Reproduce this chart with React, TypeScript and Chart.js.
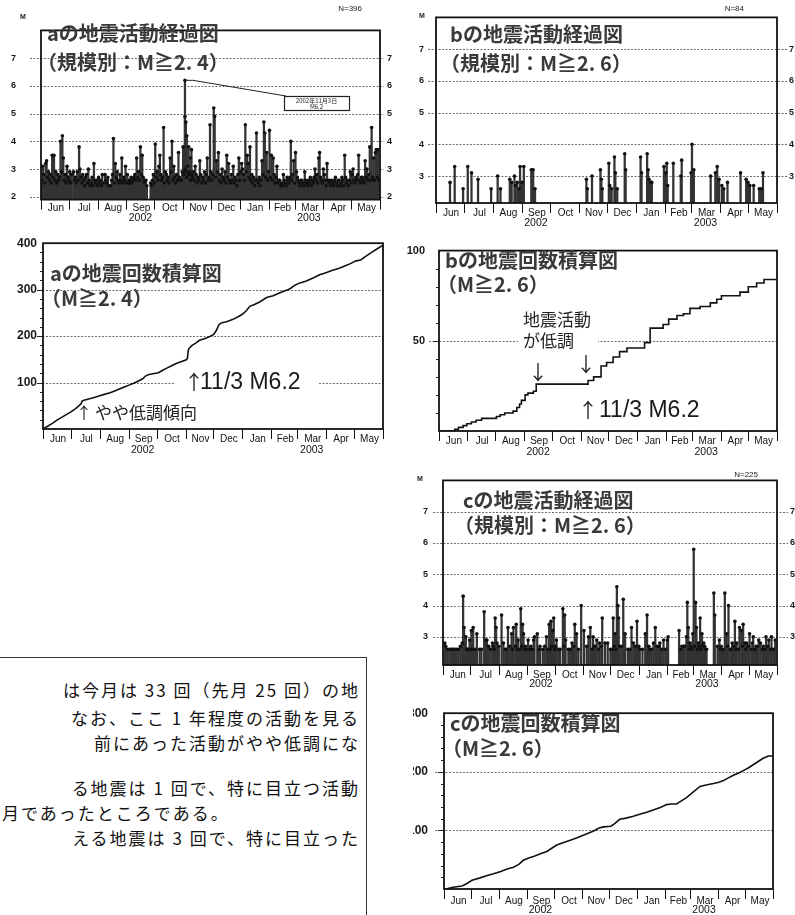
import React, { useEffect, useRef } from "react";
import { Chart, registerables } from "chart.js";

Chart.register(...registerables);

type Pair = [number, number];

// Day index: 0 = 2002-06-01 ... 365 = 2003-06-01
const MONTH_LABELS = ["Jun", "Jul", "Aug", "Sep", "Oct", "Nov", "Dec", "Jan", "Feb", "Mar", "Apr", "May"];
const MONTH_START_DAYS = [0, 30, 61, 92, 122, 153, 183, 214, 245, 273, 304, 334, 365];
const YEAR_LABELS: [string, number][] = [["2002", 3], ["2003", 9]];

const A_MAG_TICKS = [2, 3, 4, 5, 6, 7];
const BC_MAG_TICKS = [3, 4, 5, 6, 7];
const A_CUM_TICKS = [100, 200, 300, 400];
const A_CUM_GRID = [100, 200, 300];
const B_CUM_TICKS = [50, 100];
const B_CUM_GRID = [50];
const C_CUM_TICKS = [100, 200, 300];
const C_CUM_GRID = [100, 200];

// a: events [day, M]
const A_EVENTS_MAIN: Pair[] = [
  [2, 3.1], [5, 3.2], [6, 3.3], [12, 3.5], [14, 3.5], [21, 4.0], [23, 4.2], [24, 3.4], [28, 3.1],
  [35, 2.9], [41, 3.8], [42, 3.0], [49, 2.8], [51, 3.0], [57, 3.2], [60, 2.6], [69, 2.8], [75, 2.4],
  [78, 4.1], [80, 3.2], [82, 2.9], [87, 3.4], [91, 3.1], [94, 2.5], [100, 2.7], [103, 3.4], [107, 3.8],
  [109, 3.5], [112, 2.6], [123, 3.9], [127, 3.1], [128, 3.5], [132, 4.5], [134, 2.9], [139, 3.4],
  [141, 4.0], [143, 3.1], [148, 3.6], [150, 2.6], [153, 3.8], [155, 6.2], [155, 4.9], [156, 4.7],
  [157, 4.2], [159, 3.8], [161, 3.4], [162, 3.7], [166, 3.1], [171, 3.3], [179, 3.4], [182, 4.6],
  [186, 5.2], [187, 4.9], [189, 3.3], [191, 3.6], [195, 3.0], [200, 3.5], [202, 3.2], [207, 3.1],
  [213, 3.4], [216, 3.2], [220, 4.6], [222, 3.5], [223, 3.2], [225, 3.8], [231, 2.6], [232, 4.3],
  [238, 3.3], [240, 4.7], [241, 4.3], [243, 3.6], [246, 4.4], [248, 3.5], [250, 3.4], [254, 3.1],
  [256, 2.6], [261, 2.8], [265, 2.7], [269, 4.0], [272, 3.3], [274, 3.6], [275, 2.9], [277, 2.6],
  [281, 2.6], [284, 2.9], [290, 2.7], [295, 3.0], [299, 3.4], [300, 3.6], [304, 3.0], [308, 3.2],
  [311, 2.6], [317, 2.7], [320, 2.6], [324, 2.7], [327, 3.5], [333, 2.9], [336, 3.0], [342, 3.5],
  [345, 2.7], [349, 3.3], [351, 3.0], [354, 3.8], [356, 4.5], [358, 3.4], [360, 3.6], [361, 3.7],
  [363, 3.7],
];
const A_EVENTS_LOW: Pair[] = [
  [1, 2.6], [3, 2.8], [4, 2.5], [7, 2.7], [8, 2.9], [9, 2.6], [10, 2.8], [11, 2.5], [13, 2.7], [15, 2.6],
  [16, 2.9], [17, 2.5], [18, 2.8], [19, 2.6], [20, 2.7], [22, 2.9], [25, 2.6], [26, 2.8], [27, 2.5],
  [29, 2.7], [30, 2.6], [31, 2.9], [32, 2.5], [33, 2.8], [36, 2.6], [37, 2.7], [38, 2.5], [39, 2.9],
  [40, 2.6], [43, 2.7], [44, 2.5], [45, 2.8], [46, 2.6], [47, 2.4], [48, 2.7], [50, 2.5], [52, 2.6],
  [53, 2.4], [54, 2.5], [55, 2.7], [56, 2.4], [58, 2.6], [59, 2.5], [61, 2.4], [62, 2.7], [63, 2.5],
  [64, 2.6], [65, 2.4], [66, 2.8], [67, 2.5], [70, 2.6], [71, 2.5], [72, 2.7], [73, 2.4], [76, 2.6],
  [77, 2.8], [79, 2.5], [81, 2.7], [83, 2.6], [84, 2.5], [85, 2.8], [86, 2.6], [88, 2.5], [89, 2.7],
  [90, 2.6], [92, 2.5], [93, 2.8], [95, 2.6], [96, 2.5], [97, 2.7], [98, 2.5], [99, 2.6], [101, 2.8],
  [102, 2.6], [104, 2.7], [105, 2.9], [106, 2.6], [108, 2.8], [110, 2.7], [111, 2.5], [113, 2.6],
  [114, 2.4], [118, 2.5], [119, 2.4], [120, 2.6], [121, 2.8], [122, 2.5], [124, 2.7], [125, 2.9],
  [126, 2.6], [129, 2.8], [130, 2.6], [131, 2.7], [133, 2.5], [135, 2.8], [136, 2.6], [137, 2.7],
  [138, 2.5], [140, 2.9], [142, 2.6], [144, 2.7], [145, 2.5], [146, 2.8], [147, 2.6], [149, 2.7],
  [151, 2.6], [152, 2.9], [154, 2.8], [155, 3.0], [156, 2.9], [157, 2.7], [158, 3.1], [159, 2.8],
  [160, 2.9], [161, 2.6], [162, 2.8], [163, 2.7], [164, 2.9], [165, 2.6], [167, 2.8], [168, 2.5],
  [169, 2.7], [170, 2.6], [172, 2.8], [173, 2.5], [174, 2.7], [175, 2.6], [176, 2.9], [177, 2.5],
  [178, 2.8], [180, 2.6], [181, 2.7], [183, 2.9], [184, 2.6], [185, 2.8], [188, 2.7], [190, 2.9],
  [192, 2.6], [193, 2.8], [194, 2.5], [196, 2.7], [197, 2.6], [198, 2.9], [199, 2.5], [201, 2.7],
  [203, 2.6], [204, 2.5], [205, 2.8], [206, 2.6], [208, 2.5], [209, 2.7], [210, 2.6], [211, 2.4],
  [212, 2.8], [214, 2.6], [215, 2.9], [217, 3.0], [218, 2.8], [219, 2.6], [221, 2.9], [224, 2.7],
  [226, 2.6], [227, 2.8], [228, 2.5], [229, 2.7], [230, 2.4], [233, 2.6], [234, 2.5], [235, 2.7],
  [236, 2.4], [237, 2.6], [239, 2.8], [242, 2.7], [244, 2.6], [245, 2.9], [247, 2.7], [249, 2.6],
  [251, 2.8], [252, 2.5], [253, 2.7], [255, 2.5], [257, 2.6], [258, 2.4], [259, 2.5], [260, 2.4],
  [262, 2.6], [263, 2.5], [264, 2.4], [266, 2.6], [267, 2.5], [268, 2.7], [270, 2.6], [271, 2.8],
  [273, 2.5], [276, 2.7], [278, 2.5], [279, 2.4], [280, 2.6], [282, 2.5], [283, 2.4], [285, 2.6],
  [286, 2.5], [287, 2.4], [288, 2.6], [289, 2.5], [291, 2.4], [292, 2.6], [293, 2.5], [294, 2.7],
  [296, 2.6], [297, 2.8], [298, 2.5], [301, 2.7], [302, 2.6], [303, 2.5], [305, 2.8], [306, 2.6],
  [307, 2.4], [309, 2.6], [310, 2.5], [312, 2.4], [313, 2.6], [314, 2.5], [315, 2.4], [316, 2.6],
  [318, 2.5], [319, 2.4], [321, 2.6], [322, 2.4], [323, 2.5], [325, 2.6], [326, 2.4], [328, 2.7],
  [329, 2.5], [330, 2.6], [331, 2.4], [332, 2.6], [334, 2.5], [335, 2.8], [337, 2.6], [338, 2.5],
  [339, 2.7], [340, 2.6], [341, 2.8], [343, 2.6], [344, 2.5], [346, 2.7], [347, 2.6], [348, 2.5],
  [350, 2.7], [352, 2.6], [353, 2.8], [355, 2.6], [357, 2.7], [359, 2.6], [362, 2.7], [364, 2.6],
];

// b: events [day, M]
const B_EVENTS: Pair[] = [
  [15, 2.8], [20, 3.3], [29, 2.6], [34, 3.3], [38, 3.1], [45, 2.9], [59, 2.6], [66, 3.0], [69, 2.6],
  [79, 2.9], [81, 2.8], [84, 3.0], [85, 2.7], [87, 2.8], [89, 2.6], [90, 3.3], [92, 2.8], [94, 3.3],
  [102, 3.2], [104, 3.2], [106, 2.6], [161, 2.9], [162, 2.6], [167, 3.0], [176, 3.2], [177, 2.9],
  [178, 2.6], [185, 3.4], [186, 2.7], [188, 2.6], [191, 3.6], [192, 3.1], [194, 2.6], [202, 3.7],
  [203, 3.2], [219, 3.6], [220, 3.1], [226, 3.7], [227, 3.2], [228, 2.9], [230, 2.8], [231, 2.8],
  [244, 3.3], [246, 3.1], [247, 3.4], [248, 2.7], [254, 3.4], [262, 3.0], [263, 3.5], [273, 3.1],
  [274, 4.0], [276, 3.2], [294, 3.0], [299, 3.1], [301, 3.3], [303, 2.9], [306, 2.7], [308, 2.6],
  [312, 2.8], [326, 3.1], [332, 2.9], [334, 2.8], [336, 2.7], [340, 2.7], [346, 2.6], [348, 2.6],
  [350, 3.1],
];

// c: events [day, M]
const C_EVENTS_MAIN: Pair[] = [
  [2, 2.8], [7, 2.6], [9, 2.6], [12, 2.6], [15, 2.6], [21, 2.8], [22, 4.3], [23, 3.3], [25, 3.0],
  [27, 2.6], [29, 2.9], [31, 3.2], [33, 3.3], [35, 2.6], [37, 3.1], [42, 2.6], [45, 3.8], [47, 2.9],
  [48, 2.9], [54, 2.8], [57, 3.6], [58, 3.3], [59, 2.8], [64, 3.7], [66, 2.8], [69, 2.6], [71, 3.3],
  [75, 3.1], [77, 3.3], [80, 3.4], [82, 2.9], [85, 3.9], [87, 3.4], [88, 3.1], [91, 2.6], [93, 2.9],
  [96, 2.7], [99, 2.9], [100, 3.0], [103, 3.1], [106, 2.7], [109, 2.6], [113, 3.0], [116, 3.4],
  [118, 3.5], [120, 3.2], [121, 3.6], [124, 2.9], [131, 3.9], [133, 3.7], [134, 2.9], [137, 2.6],
  [141, 2.8], [144, 3.4], [146, 3.1], [151, 4.0], [154, 3.2], [159, 3.0], [161, 3.3], [164, 3.0],
  [166, 2.7], [168, 2.9], [171, 2.8], [174, 3.6], [177, 2.8], [180, 2.8], [186, 3.6], [188, 3.1],
  [190, 4.6], [191, 4.0], [192, 3.6], [193, 2.7], [197, 4.2], [199, 3.1], [204, 2.6], [206, 3.3],
  [208, 2.8], [212, 3.5], [214, 2.7], [215, 2.6], [221, 3.1], [223, 3.7], [226, 2.6], [230, 2.8],
  [232, 3.3], [234, 2.7], [237, 2.8], [241, 2.9], [245, 2.9], [246, 3.0], [258, 3.2], [261, 2.7],
  [264, 2.7], [266, 3.0], [267, 4.1], [268, 3.3], [270, 2.8], [273, 3.1], [274, 5.8], [276, 4.1],
  [277, 3.3], [279, 2.8], [281, 3.6], [283, 3.1], [285, 2.8], [286, 2.7], [288, 2.6], [296, 4.4],
  [297, 3.7], [302, 2.9], [304, 2.7], [308, 4.4], [310, 3.1], [312, 4.0], [314, 2.6], [316, 2.8],
  [319, 3.5], [321, 2.8], [324, 3.3], [326, 3.2], [328, 3.4], [330, 2.8], [332, 2.8], [335, 3.1],
  [338, 2.8], [339, 3.0], [342, 2.7], [345, 2.9], [347, 2.8], [350, 2.7], [353, 3.0], [356, 2.9],
  [359, 3.0], [363, 2.9],
];
const C_EVENTS_LOW: Pair[] = [
  [3, 2.7], [5, 2.6], [10, 2.6], [13, 2.6], [17, 2.6], [19, 2.7], [26, 2.6], [28, 2.6], [30, 2.6],
  [32, 2.6], [40, 2.6], [50, 2.7], [52, 2.6], [55, 2.7], [56, 2.6], [61, 2.7], [68, 2.6], [73, 2.7],
  [76, 2.6], [79, 2.7], [81, 2.6], [84, 2.6], [86, 2.7], [89, 2.6], [90, 2.7], [95, 2.6], [98, 2.6],
  [105, 2.6], [111, 2.7], [114, 2.6], [117, 2.6], [119, 2.7], [122, 2.6], [123, 2.7], [126, 2.6],
  [128, 2.6], [132, 2.7], [139, 2.6], [143, 2.7], [148, 2.6], [157, 2.7], [163, 2.6], [165, 2.7],
  [170, 2.6], [173, 2.7], [183, 2.6], [185, 2.6], [187, 2.7], [189, 2.6], [195, 2.7], [202, 2.6],
  [210, 2.7], [218, 2.6], [225, 2.7], [228, 2.6], [236, 2.7], [239, 2.6], [243, 2.6], [260, 2.6],
  [263, 2.7], [269, 2.6], [271, 2.7], [272, 2.6], [275, 2.7], [278, 2.6], [280, 2.7], [282, 2.6],
  [284, 2.7], [287, 2.6], [300, 2.7], [303, 2.6], [306, 2.6], [311, 2.7], [315, 2.6], [318, 2.7],
  [320, 2.6], [323, 2.6], [327, 2.7], [331, 2.6], [334, 2.7], [337, 2.6], [341, 2.6], [344, 2.7],
  [349, 2.6], [352, 2.6], [355, 2.7], [358, 2.6], [361, 2.6],
];

// cumulative counts [day, count]
const A_CUM: Pair[] = [
  [0, 0], [5, 6], [10, 12], [15, 19], [20, 25], [25, 31], [30, 37], [35, 44], [39, 51], [41, 55],
  [42, 60], [44, 62], [50, 65], [55, 68], [60, 71], [65, 74], [72, 78], [77, 82], [82, 86], [88, 91],
  [93, 95], [98, 99], [103, 104], [107, 108], [110, 114], [113, 117], [118, 119], [124, 121],
  [128, 126], [133, 131], [138, 136], [143, 141], [148, 145], [154, 149], [155, 152], [156, 170],
  [157, 174], [160, 180], [164, 185], [168, 191], [174, 195], [179, 199], [183, 203], [186, 212],
  [189, 225], [192, 229], [197, 231], [204, 236], [209, 241], [214, 247], [218, 254], [222, 264],
  [227, 268], [233, 274], [240, 283], [247, 287], [255, 294], [262, 299], [266, 303], [270, 309],
  [275, 314], [282, 318], [290, 325], [297, 332], [303, 336], [310, 341], [318, 346], [324, 351],
  [330, 356], [336, 362], [341, 364], [346, 371], [352, 379], [358, 387], [365, 396],
];
const B_CUM: Pair[] = [
  [0, 0], [12, 0], [17, 1], [21, 2], [26, 3], [30, 4], [35, 5], [40, 6], [46, 7], [62, 8], [66, 9],
  [71, 10], [80, 11], [84, 13], [87, 15], [89, 17], [93, 20], [96, 21], [102, 22], [105, 26],
  [159, 26], [161, 28], [167, 30], [175, 36], [181, 38], [188, 41], [195, 44], [203, 46], [222, 49],
  [228, 57], [242, 59], [248, 62], [257, 64], [264, 65], [271, 68], [282, 69], [293, 71], [300, 73],
  [305, 75], [325, 77], [334, 80], [343, 82], [351, 84], [365, 84],
];
const C_CUM: Pair[] = [
  [0, 0], [2, 0], [10, 3], [20, 5], [25, 9], [31, 15], [40, 19], [48, 23], [55, 26], [63, 30],
  [70, 34], [77, 37], [83, 42], [88, 49], [94, 53], [100, 56], [107, 60], [114, 64], [120, 70],
  [125, 75], [132, 79], [140, 83], [147, 87], [153, 91], [160, 95], [166, 99], [172, 104], [177, 106],
  [185, 107], [188, 110], [195, 119], [202, 121], [210, 124], [218, 128], [225, 131], [232, 135],
  [240, 139], [247, 144], [252, 145], [258, 145], [263, 150], [269, 156], [276, 165], [284, 175],
  [292, 178], [299, 180], [305, 182], [310, 185], [316, 190], [321, 194], [327, 198], [332, 202],
  [338, 207], [343, 212], [349, 218], [354, 223], [360, 227], [365, 227],
];

const SANS = '"Liberation Sans", Arial, sans-serif';
const JP = '"Noto Sans CJK JP", sans-serif';
const TITLE_FONT = `bold 20px ${JP}`;
const BIG_FONT = `23px ${SANS}`;
const NOTE_FONT = `17px ${JP}`;
const ARROW_FONT = `20px ${JP}`;
const SMALL_FONT = `8px ${SANS}`;
const TITLE_COLOR = "#3a3a3a";

const A_PEAK = A_EVENTS_MAIN.reduce((m, e) => (e[1] > m[1] ? e : m), A_EVENTS_MAIN[0]);

type TextItem = { t: string; x: number; y: number; font: string; align?: CanvasTextAlign; color?: string };
type Spec = {
  kind: "act" | "cum";
  box: { x: number; y: number; w: number; h: number };
  area: { l: number; t: number; r: number; b: number };
  clipLeft?: number;
  yMin: number; yMax: number; yTicks: number[]; grid: number[];
  tickSize: number; padL: number; padR?: number; extL: number; extR: number;
  minorStep?: number;
  monthDy: number; yearDy: number;
  bars?: Pair[]; line?: Pair[]; stepped?: boolean;
  texts: TextItem[];
  bgRects?: { x1: number; y1: number; x2: number; y2: number }[];
  callout?: { peak: Pair; box: { x1: number; y1: number; x2: number; y2: number }; lines: string[] };
};

const decorPlugin = {
  id: "decor",
  beforeDatasetsDraw(chart: any, _a: any, o: any) {
    const { ctx, chartArea: ca } = chart;
    const ys = chart.scales.y;
    ctx.save();
    ctx.strokeStyle = "#6d6d6d";
    ctx.lineWidth = 1;
    ctx.setLineDash([2, 1.5]);
    for (const v of o.grid) {
      const py = Math.round(ys.getPixelForValue(v)) + 0.5;
      ctx.beginPath();
      ctx.moveTo(ca.left - o.extL, py);
      ctx.lineTo(ca.right + o.extR, py);
      ctx.stroke();
    }
    ctx.restore();
  },
  afterDatasetsDraw(chart: any, _a: any, o: any) {
    const { ctx, chartArea: ca } = chart;
    const xs = chart.scales.x;
    const ys = chart.scales.y;
    ctx.save();
    ctx.fillStyle = "#fff";
    for (const r of o.bgRects || []) ctx.fillRect(r.x1, r.y1, r.x2 - r.x1, r.y2 - r.y1);
    ctx.strokeStyle = "#222";
    ctx.lineWidth = 1;
    if (o.minorStep) {
      for (let v = ys.min + o.minorStep; v < ys.max; v += o.minorStep) {
        const py = Math.round(ys.getPixelForValue(v)) + 0.5;
        const len = o.yTicks.includes(v) ? 6 : 3;
        ctx.beginPath();
        ctx.moveTo(ca.left - len, py);
        ctx.lineTo(ca.left, py);
        ctx.stroke();
      }
    }
    ctx.strokeStyle = "#111";
    ctx.lineWidth = 1.8;
    ctx.strokeRect(ca.left, ca.top, ca.right - ca.left, ca.bottom - ca.top);
    ctx.lineWidth = 1;
    ctx.fillStyle = "#111";
    ctx.font = `10px ${SANS}`;
    ctx.textAlign = "center";
    ctx.textBaseline = "middle";
    MONTH_START_DAYS.forEach((d, i) => {
      const px = Math.round(xs.getPixelForValue(d)) + 0.5;
      ctx.beginPath();
      ctx.moveTo(px, ca.bottom);
      ctx.lineTo(px, ca.bottom + 10);
      ctx.stroke();
      if (i < MONTH_LABELS.length) {
        const mid = (xs.getPixelForValue(d) + xs.getPixelForValue(MONTH_START_DAYS[i + 1])) / 2;
        ctx.fillText(MONTH_LABELS[i], mid + 1, ca.bottom + o.monthDy);
      }
    });
    ctx.font = `10.5px ${SANS}`;
    for (const [label, mi] of YEAR_LABELS) {
      const mid = (xs.getPixelForValue(MONTH_START_DAYS[mi]) + xs.getPixelForValue(MONTH_START_DAYS[mi + 1])) / 2;
      ctx.fillText(label, mid, ca.bottom + o.yearDy);
    }
    if (o.callout) {
      const c = o.callout;
      const px = xs.getPixelForValue(c.peak[0]);
      const py = ys.getPixelForValue(c.peak[1]);
      ctx.strokeStyle = "#222";
      ctx.lineWidth = 1;
      ctx.beginPath();
      ctx.moveTo(px, py);
      ctx.lineTo(px + 8, py);
      ctx.lineTo(c.box.x1 + 2, c.box.y1);
      ctx.stroke();
      ctx.fillStyle = "#fff";
      ctx.fillRect(c.box.x1, c.box.y1, c.box.x2 - c.box.x1, c.box.y2 - c.box.y1);
      ctx.lineWidth = 1.2;
      ctx.strokeRect(c.box.x1 + 0.5, c.box.y1 + 0.5, c.box.x2 - c.box.x1, c.box.y2 - c.box.y1);
      ctx.fillStyle = "#222";
      ctx.font = `6px ${JP}`;
      const cx = (c.box.x1 + c.box.x2) / 2;
      ctx.fillText(c.lines[0], cx, c.box.y1 + 4.5);
      ctx.fillText(c.lines[1], cx, c.box.y1 + 10.5);
    }
    for (const t of o.texts) {
      ctx.font = t.font;
      ctx.fillStyle = t.color || "#222";
      ctx.textAlign = t.align || "left";
      ctx.textBaseline = "middle";
      ctx.fillText(t.t, t.x, t.y);
    }
    ctx.restore();
  },
};

function buildConfig(s: Spec): any {
  const { box, area } = s;
  const padTop = area.t - box.y;
  const leftW = area.l - box.x;
  const rightW = box.x + box.w - area.r;
  const bottomH = box.y + box.h - area.b;
  const tickFont = { family: "Liberation Sans", size: s.tickSize, weight: "bold" as const };
  const setTicks = (sc: any) => {
    sc.ticks = s.yTicks.map((v) => ({ value: v }));
  };
  const yAxis = (position: "left" | "right", pad: number, w: number) => ({
    type: "linear",
    position,
    min: s.yMin,
    max: s.yMax,
    afterBuildTicks: setTicks,
    ticks: { font: tickFont, color: "#1a1a1a", padding: pad, callback: (v: number) => String(v) },
    grid: { display: false, drawTicks: false },
    border: { display: false },
    afterFit: (sc: any) => {
      sc.width = w;
    },
  });
  const scales: any = {
    x: {
      type: "linear",
      min: 0,
      max: 365,
      offset: false,
      ticks: { display: false },
      grid: { display: false, drawTicks: false },
      border: { display: false },
      afterFit: (sc: any) => {
        sc.height = bottomH;
      },
    },
    y: yAxis("left", s.padL, leftW),
  };
  let datasets: any[];
  if (s.kind === "act") {
    scales.y2 = yAxis("right", s.padR || 6, rightW);
    const pts = (s.bars || []).map(([d, m]) => ({ x: d, y: m }));
    datasets = [
      { type: "bar", data: pts, backgroundColor: "#333", borderWidth: 0, barThickness: 1.6, yAxisID: "y", order: 2 },
      {
        type: "scatter",
        data: pts,
        pointRadius: 1.8,
        pointBackgroundColor: "#111",
        pointBorderColor: "#111",
        pointBorderWidth: 0,
        yAxisID: "y",
        order: 1,
      },
    ];
  } else {
    datasets = [
      {
        type: "line",
        data: (s.line || []).map(([d, c]) => ({ x: d, y: c })),
        borderColor: "#111",
        borderWidth: 1.6,
        pointRadius: 0,
        tension: 0,
        fill: false,
        stepped: s.stepped ? "before" : false,
      },
    ];
  }
  const toLocal = (t: TextItem) => ({ ...t, x: t.x - box.x, y: t.y - box.y });
  return {
    type: s.kind === "act" ? "bar" : "line",
    data: { datasets },
    options: {
      animation: false,
      responsive: false,
      maintainAspectRatio: false,
      events: [],
      layout: { padding: { top: padTop, left: 0, bottom: 0, right: s.kind === "act" ? 0 : rightW } },
      plugins: {
        legend: { display: false },
        tooltip: { enabled: false },
        decor: {
          grid: s.grid,
          yTicks: s.yTicks,
          extL: s.extL,
          extR: s.extR,
          minorStep: s.minorStep,
          monthDy: s.monthDy,
          yearDy: s.yearDy,
          texts: s.texts.map(toLocal),
          bgRects: (s.bgRects || []).map((r) => ({ x1: r.x1 - box.x, x2: r.x2 - box.x, y1: r.y1 - box.y, y2: r.y2 - box.y })),
          callout: s.callout
            ? {
                ...s.callout,
                box: {
                  x1: s.callout.box.x1 - box.x,
                  x2: s.callout.box.x2 - box.x,
                  y1: s.callout.box.y1 - box.y,
                  y2: s.callout.box.y2 - box.y,
                },
              }
            : null,
        },
      },
      scales,
    },
    plugins: [decorPlugin],
  };
}

const PANELS: Spec[] = [
  {
    kind: "act",
    box: { x: 0, y: 0, w: 400, h: 230 },
    area: { l: 41, t: 14, r: 380, b: 204 },
    yMin: 1.9, yMax: 8, yTicks: A_MAG_TICKS, grid: A_MAG_TICKS,
    tickSize: 9, padL: 25, padR: 7, extL: 11, extR: 4,
    monthDy: 9, yearDy: 19,
    bars: [...A_EVENTS_MAIN, ...A_EVENTS_LOW],
    texts: [
      { t: "M", x: 23, y: 17, font: `bold 7px ${SANS}`, align: "center" },
      { t: "N=396", x: 362, y: 9, font: SMALL_FONT, align: "right" },
      { t: "aの地震活動経過図", x: 47, y: 33, font: TITLE_FONT, color: TITLE_COLOR },
      { t: "（規模別：M≧2. 4）", x: 37, y: 62, font: TITLE_FONT, color: TITLE_COLOR },
    ],
    callout: { peak: A_PEAK, box: { x1: 284, y1: 96, x2: 349, y2: 110 }, lines: ["2002年11月3日", "M6.2"] },
  },
  {
    kind: "act",
    box: { x: 400, y: 0, w: 395, h: 230 },
    area: { l: 436, t: 15, r: 777, b: 203 },
    yMin: 2.15, yMax: 8, yTicks: BC_MAG_TICKS, grid: BC_MAG_TICKS,
    tickSize: 9, padL: 12, padR: 12, extL: 8, extR: 10,
    monthDy: 10, yearDy: 20,
    bars: B_EVENTS,
    texts: [
      { t: "M", x: 422, y: 16, font: `bold 7px ${SANS}`, align: "center" },
      { t: "N=84", x: 744, y: 9, font: SMALL_FONT, align: "right" },
      { t: "bの地震活動経過図", x: 450, y: 34, font: TITLE_FONT, color: TITLE_COLOR },
      { t: "（規模別：M≧2. 6）", x: 440, y: 63, font: TITLE_FONT, color: TITLE_COLOR },
    ],
  },
  {
    kind: "cum",
    box: { x: 0, y: 230, w: 400, h: 230 },
    area: { l: 43, t: 240, r: 383, b: 429 },
    yMin: 0, yMax: 400, yTicks: A_CUM_TICKS, grid: A_CUM_GRID,
    tickSize: 12, padL: 6, extL: 4, extR: 0, minorStep: 20,
    monthDy: 10, yearDy: 21,
    line: A_CUM,
    texts: [
      { t: "aの地震回数積算図", x: 50, y: 273, font: TITLE_FONT, color: TITLE_COLOR },
      { t: "（M≧2. 4）", x: 41, y: 298, font: TITLE_FONT, color: TITLE_COLOR },
      { t: "↑", x: 184, y: 382, font: ARROW_FONT },
      { t: "11/3 M6.2", x: 200, y: 383, font: BIG_FONT, color: "#1a1a1a" },
      { t: "↑", x: 76, y: 413, font: `16px ${JP}` },
      { t: "やや低調傾向", x: 95, y: 413, font: NOTE_FONT },
    ],
    bgRects: [{ x1: 175, y1: 370, x2: 319, y2: 396 }],
  },
  {
    kind: "cum",
    box: { x: 400, y: 230, w: 395, h: 230 },
    area: { l: 439, t: 243, r: 777, b: 431 },
    yMin: 0, yMax: 100, yTicks: B_CUM_TICKS, grid: B_CUM_GRID,
    tickSize: 11, padL: 14, extL: 10, extR: 0, minorStep: 10,
    monthDy: 10, yearDy: 21,
    line: B_CUM, stepped: true,
    texts: [
      { t: "bの地震回数積算図", x: 445, y: 260, font: TITLE_FONT, color: TITLE_COLOR },
      { t: "（M≧2. 6）", x: 437, y: 284, font: TITLE_FONT, color: TITLE_COLOR },
      { t: "地震活動", x: 523, y: 320, font: NOTE_FONT },
      { t: "が低調", x: 523, y: 341, font: NOTE_FONT },
      { t: "↓", x: 528, y: 372, font: ARROW_FONT },
      { t: "↓", x: 576, y: 364, font: ARROW_FONT },
      { t: "↑", x: 578, y: 410, font: ARROW_FONT },
      { t: "11/3 M6.2", x: 599, y: 411, font: BIG_FONT, color: "#1a1a1a" },
    ],
    bgRects: [{ x1: 518, y1: 306, x2: 598, y2: 352 }],
  },
  {
    kind: "act",
    box: { x: 400, y: 460, w: 395, h: 230 },
    area: { l: 443, t: 478, r: 777, b: 665 },
    yMin: 2.1, yMax: 8, yTicks: BC_MAG_TICKS, grid: BC_MAG_TICKS,
    tickSize: 9, padL: 15, padR: 13, extL: 10, extR: 11,
    monthDy: 10, yearDy: 19,
    bars: [...C_EVENTS_MAIN, ...C_EVENTS_LOW],
    texts: [
      { t: "M", x: 420, y: 479, font: `bold 7px ${SANS}`, align: "center" },
      { t: "N=225", x: 758, y: 475, font: SMALL_FONT, align: "right" },
      { t: "cの地震活動経過図", x: 463, y: 500, font: TITLE_FONT, color: TITLE_COLOR },
      { t: "（規模別：M≧2. 6）", x: 454, y: 525, font: TITLE_FONT, color: TITLE_COLOR },
    ],
  },
  {
    kind: "cum",
    box: { x: 400, y: 690, w: 395, h: 225 },
    area: { l: 444, t: 702, r: 773, b: 889 },
    clipLeft: 413,
    yMin: 0, yMax: 300, yTicks: C_CUM_TICKS, grid: C_CUM_GRID,
    tickSize: 12, padL: 16, extL: 9, extR: 0, minorStep: 20,
    monthDy: 12, yearDy: 21,
    line: C_CUM,
    texts: [
      { t: "cの地震回数積算図", x: 450, y: 723, font: TITLE_FONT, color: TITLE_COLOR },
      { t: "（M≧2. 6）", x: 442, y: 748, font: TITLE_FONT, color: TITLE_COLOR },
    ],
  },
];

function Panel({ spec }: { spec: Spec }) {
  const ref = useRef<HTMLCanvasElement>(null);
  useEffect(() => {
    const chart = new Chart(ref.current as HTMLCanvasElement, buildConfig(spec));
    return () => chart.destroy();
  }, [spec]);
  const { box } = spec;
  const cl = spec.clipLeft ?? box.x;
  return (
    <div style={{ position: "absolute", left: cl, top: box.y, width: box.x + box.w - cl, height: box.h, overflow: "hidden" }}>
      <canvas
        ref={ref}
        width={box.w}
        height={box.h}
        style={{ position: "absolute", left: box.x - cl, top: 0, width: box.w, height: box.h }}
      />
    </div>
  );
}

const NOTE_LINES: { t: string; y: number; left?: number }[] = [
  { t: "は今月は 33 回（先月 25 回）の地", y: 690 },
  { t: "なお、ここ 1 年程度の活動を見る", y: 718 },
  { t: "前にあった活動がやや低調にな", y: 743 },
  { t: "る地震は 1 回で、特に目立つ活動", y: 788 },
  { t: "月であったところである。", y: 813, left: 2 },
  { t: "える地震は 3 回で、特に目立った", y: 838 },
];

export default function App() {
  return (
    <div
      style={{
        position: "absolute",
        left: 0,
        top: 0,
        width: 795,
        height: 915,
        overflow: "hidden",
        background: "#fff",
      }}
    >
      <div
        style={{
          position: "absolute",
          left: -4,
          top: 657,
          width: 371,
          height: 300,
          border: "1px solid #333",
          boxSizing: "border-box",
        }}
      />
      {NOTE_LINES.map((l, i) => (
        <div
          key={i}
          style={{
            position: "absolute",
            top: l.y - 12,
            height: 24,
            lineHeight: "24px",
            whiteSpace: "nowrap",
            fontFamily: JP,
            fontSize: 17,
            letterSpacing: 2,
            color: "#111",
            ...(l.left !== undefined ? { left: l.left } : { right: 795 - 360 }),
          }}
        >
          {l.t}
        </div>
      ))}
      {PANELS.map((p, i) => (
        <Panel key={i} spec={p} />
      ))}
    </div>
  );
}
